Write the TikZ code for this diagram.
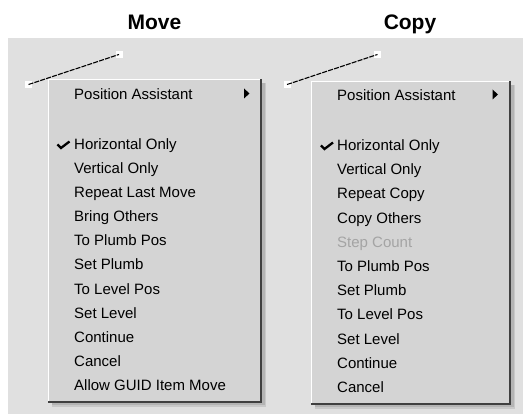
\documentclass[tikz,border=0pt]{standalone}
\usepackage{fontspec}
\setmainfont{Liberation Sans}
\definecolor{bggray}{HTML}{E0E0E0}
\definecolor{menugray}{HTML}{D4D4D4}
\definecolor{darkedge}{HTML}{404040}
\definecolor{disabledgray}{HTML}{A4A4A4}
\newcommand\popupbox[4]{%
  \fill[black,opacity=0.10] ({#1+4},{#2+4}) rectangle ({#3+4},{#4+4});
  \fill[black,opacity=0.10] ({#1+4},{#2+4}) rectangle ({#3+2.5},{#4+2.5});
  \fill[menugray] (#1,#2) rectangle (#3,#4);
  \draw[white,line width=1.2pt] ({#1+0.6},{#4-1}) -- ({#1+0.6},{#2+0.6}) -- ({#3-1},{#2+0.6});
  \draw[darkedge,line width=2.2pt] ({#3-1.1},{#2}) -- ({#3-1.1},{#4-1.1}) -- (#1,{#4-1.1});
}
\begin{document}
\begin{tikzpicture}[x=1pt,y=-1pt,
  item/.style={anchor=base west, inner sep=0pt, font=\fontsize{15}{18}\selectfont, text=black},
  greyitem/.style={item, text=disabledgray},
  title/.style={anchor=base, inner sep=0pt, font=\bfseries\fontsize{21}{24}\selectfont},
  handle/.style={draw=none, fill=white, minimum size=7pt, inner sep=0pt},
  rubber/.style={line width=1.1pt, dash pattern=on 5pt off 1.2pt},
  tick/.style={line width=2.3pt, line join=miter},
  subarrow/.style={fill=black}
  ]
\useasboundingbox (0,0) rectangle (523,414);
\fill[bggray] (8,38) rectangle (523,414);

% titles
\node[title] (tmove) at (154.5,29.5) {Move};
\node[title] (tcopy) at (410,29.5) {Copy};

% rubber-band lines with handles
\node[handle] (la) at (28.5,84.5) {};
\node[handle] (lb) at (119,54.5) {};
\draw[rubber] (la.center) -- (lb.center);
\node[handle] (ra) at (287,84.5) {};
\node[handle] (rb) at (377.5,54.5) {};
\draw[rubber] (ra.center) -- (rb.center);

% menus
\popupbox{48}{79}{262}{403}
\popupbox{311}{81}{511}{405}

% left menu
\node[item] (m0) at (74,100) {Position Assistant};
\fill[subarrow] (244,88.5) -- (249.5,93.5) -- (244,98.5) -- cycle;
\draw[tick] (57.5,144.5) -- (61,148) -- (69.5,141.5);
\foreach \t [count=\i from 0] in {Horizontal Only,Vertical Only,Repeat Last Move,Bring Others,To Plumb Pos,Set Plumb,To Level Pos,Set Level,Continue,Cancel,Allow GUID Item Move}{
  \node[item] (m\i) at (74,{149.5+24.1*\i}) {\t};
}

% right menu
\node[item] (c0) at (337,100.5) {Position Assistant};
\fill[subarrow] (492.5,89.5) -- (498,94.5) -- (492.5,99.5) -- cycle;
\draw[tick] (321,145.5) -- (324.5,149) -- (333,142.5);
\node[item] (c1) at (337,150.5) {Horizontal Only};
\node[item] (c2) at (337,174.7) {Vertical Only};
\node[item] (c3) at (337,198.9) {Repeat Copy};
\node[item] (c4) at (337,223.1) {Copy Others};
\node[greyitem] (c5) at (337,247.3) {Step Count};
\node[item] (c6) at (337,271.5) {To Plumb Pos};
\node[item] (c7) at (337,295.7) {Set Plumb};
\node[item] (c8) at (337,319.9) {To Level Pos};
\node[item] (c9) at (337,344.1) {Set Level};
\node[item] (c10) at (337,368.3) {Continue};
\node[item] (c11) at (337,392.5) {Cancel};
\end{tikzpicture}
\end{document}
